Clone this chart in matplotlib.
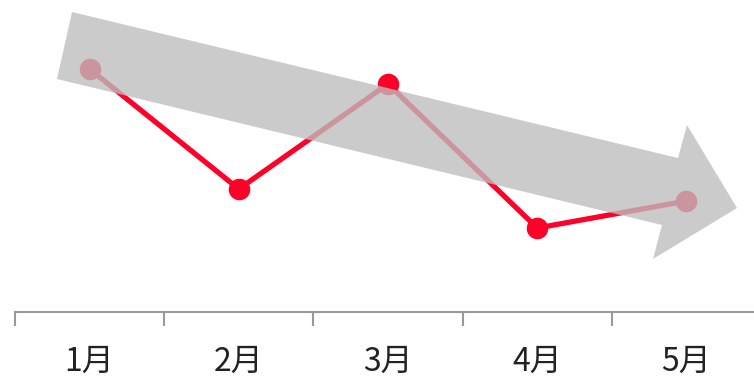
import matplotlib.pyplot as plt
from matplotlib.patches import Polygon
from matplotlib.ticker import FixedLocator

plt.rcParams['font.family'] = ['Noto Sans CJK SC', 'DejaVu Sans']

months = ['1月', '2月', '3月', '4月', '5月']
values = [81, 41, 76, 28, 37]

W, H = 754, 378
fig = plt.figure(figsize=(W / 100, H / 100), dpi=100)
ax = fig.add_axes([15 / W, 66 / H, 746 / W, 1 - 66 / H])

x = list(range(len(months)))
ax.plot(x, values, color='#ff0029', linewidth=3.8, marker='o', markersize=14.5,
        solid_joinstyle='round', zorder=2)

ax.set_xlim(-0.5, len(months) - 0.5)
ax.set_ylim(0, 104)

# ticks on category boundaries, labels in the middle
ax.xaxis.set_major_locator(FixedLocator([i - 0.5 for i in range(len(months) + 1)]))
ax.xaxis.set_major_formatter(plt.NullFormatter())
ax.xaxis.set_minor_locator(FixedLocator(x))
ax.set_xticklabels(months, minor=True, fontsize=23, color='#222222')
ax.tick_params(axis='x', which='major', length=10, width=1.5, color='#999999')
ax.tick_params(axis='x', which='minor', length=0, pad=24)
ax.set_yticks([])
for s in ['top', 'right', 'left']:
    ax.spines[s].set_visible(False)
ax.spines['bottom'].set_color('#999999')
ax.spines['bottom'].set_linewidth(1.5)

# big grey trend arrow, in figure pixels
arrow_px = [(72, 12), (678, 158), (687, 125), (737, 208), (653, 259), (662, 225), (57, 79)]
arrow = Polygon([(px / W, 1 - py / H) for px, py in arrow_px], closed=True,
                transform=fig.transFigure, facecolor='#bebebe', alpha=0.79,
                edgecolor='none', zorder=5)
fig.patches.append(arrow)

fig.savefig('out.png', dpi=100)
